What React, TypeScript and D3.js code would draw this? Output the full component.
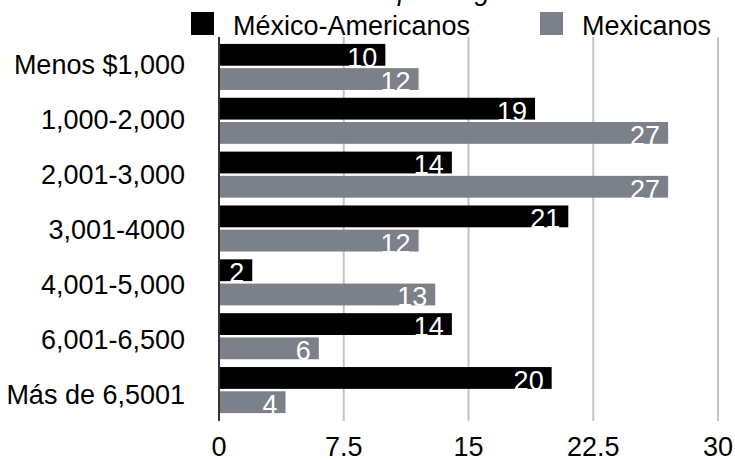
import React from "react";
import * as d3 from "d3";

const categories = [
  "Menos $1,000",
  "1,000-2,000",
  "2,001-3,000",
  "3,001-4000",
  "4,001-5,000",
  "6,001-6,500",
  "Más de 6,5001",
];
const seriesNames = ["México-Americanos", "Mexicanos"];
const mexicoAmericanos = [10, 19, 14, 21, 2, 14, 20];
const mexicanos = [12, 27, 27, 12, 13, 6, 4];
const xTicks = [0, 7.5, 15, 22.5, 30];
const titleText = "Salario anual por hogar";

const colors = ["#000000", "#7b8089"];
const FONT = "'Liberation Sans', Arial, Helvetica, sans-serif";

export default function App() {
  const W = 735;
  const H = 459;
  const x = d3.scaleLinear().domain([0, 30]).range([219, 718]);
  const yLabel = d3.scaleBand<string>().domain(categories).range([37, 421]);
  const yBar = d3
    .scaleBand<string>()
    .domain(categories)
    .range([40, 417])
    .paddingInner(0.145)
    .paddingOuter(0.0725);
  const sub = d3
    .scaleBand<string>()
    .domain(seriesNames)
    .range([0, yBar.bandwidth()])
    .paddingInner(0.1);
  const series = [mexicoAmericanos, mexicanos];

  return (
    <div style={{ position: "absolute", left: 0, top: 0 }}>
      <svg width={W} height={H} style={{ display: "block" }} fontFamily={FONT}>
        <rect width={W} height={H} fill="#ffffff" />
        <text x={233} y={-0.5} fontSize={27} fontStyle="italic" fill="#000">
          {titleText}
        </text>
        {/* gridlines */}
        {xTicks.slice(1).map((t) => (
          <line
            key={"g" + t}
            x1={x(t)}
            x2={x(t)}
            y1={37}
            y2={421}
            stroke="#c4c4c4"
            strokeWidth={2}
          />
        ))}
        {/* bars */}
        {categories.map((c, i) =>
          series.map((s, k) => {
            const y0 = (yBar(c) as number) + (sub(seriesNames[k]) as number);
            const h = sub.bandwidth();
            const x1 = x(s[i]);
            return (
              <g key={c + k}>
                <rect
                  x={x(0)}
                  y={y0}
                  width={x1 - x(0)}
                  height={h}
                  fill={colors[k]}
                />
                <text
                  x={x1 - 8}
                  y={y0 + h + 1}
                  textAnchor="end"
                  fontSize={27}
                  fill="#ffffff"
                >
                  {s[i]}
                </text>
              </g>
            );
          })
        )}
        {/* axis line */}
        <line x1={x(0)} x2={x(0)} y1={37} y2={421} stroke="#333333" strokeWidth={2} />
        {/* category labels */}
        {categories.map((c) => (
          <text
            key={"l" + c}
            x={185}
            y={(yLabel(c) as number) + yLabel.bandwidth() / 2 + 10}
            textAnchor="end"
            fontSize={27}
            fill="#000"
          >
            {c}
          </text>
        ))}
        {/* tick labels */}
        {xTicks.map((t) => (
          <text
            key={"t" + t}
            x={x(t)}
            y={456}
            textAnchor="middle"
            fontSize={27}
            fill="#000"
          >
            {t}
          </text>
        ))}
        {/* legend */}
        {seriesNames.map((n, k) => {
          const lx = [191, 540][k];
          return (
            <g key={"lg" + n}>
              <rect x={lx} y={12} width={23} height={23} fill={colors[k]} />
              <text x={lx + 42} y={34.5} fontSize={27} fill="#000">
                {n}
              </text>
            </g>
          );
        })}
      </svg>
    </div>
  );
}
